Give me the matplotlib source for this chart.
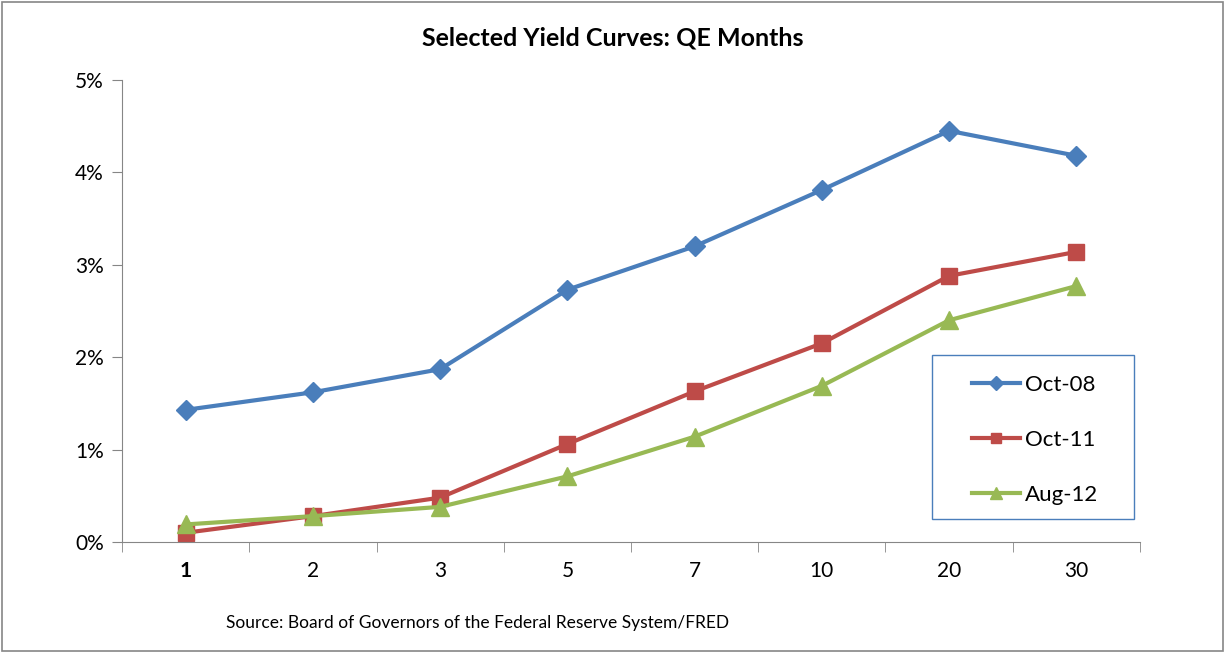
import matplotlib
matplotlib.use('Agg')
import matplotlib.pyplot as plt
from matplotlib.ticker import FuncFormatter, FixedLocator

plt.rcParams['font.family'] = ['Lato', 'DejaVu Sans']

maturities = ['1', '2', '3', '5', '7', '10', '20', '30']
oct_08 = [1.43, 1.62, 1.87, 2.73, 3.20, 3.81, 4.45, 4.18]
oct_11 = [0.10, 0.28, 0.48, 1.06, 1.63, 2.15, 2.88, 3.14]
aug_12 = [0.19, 0.28, 0.38, 0.71, 1.14, 1.69, 2.40, 2.77]

fig = plt.figure(figsize=(12.25, 6.53), dpi=100)
ax = fig.add_axes([0.0996, 0.170, 0.831, 0.7075])

x = range(len(maturities))
ax.plot(x, oct_08, color='#4a7ebb', lw=3, marker='D', ms=10, label='Oct-08')
ax.plot(x, oct_11, color='#be4b48', lw=3, marker='s', ms=11, label='Oct-11')
ax.plot(x, aug_12, color='#98b954', lw=3, marker='^', ms=13, label='Aug-12')

ax.set_xlim(-0.5, len(maturities) - 0.5)
ax.set_ylim(0, 5)
ax.set_yticks([0, 1, 2, 3, 4, 5])
ax.yaxis.set_major_formatter(FuncFormatter(lambda v, p: '%d%%' % v))
ax.set_xticks(list(x))
ax.set_xticklabels(maturities)
ax.xaxis.set_minor_locator(FixedLocator([i + 0.5 for i in range(-1, len(maturities))]))
ax.tick_params(axis='x', which='major', length=0, pad=14, labelsize=15)
ax.tick_params(axis='x', which='minor', length=7, color='#868686', direction='out')
ax.tick_params(axis='y', length=7, color='#868686', labelsize=15, pad=6)
ax.get_xticklabels()[0].set_fontweight('bold')

for s in ['top', 'right']:
    ax.spines[s].set_visible(False)
for s in ['left', 'bottom']:
    ax.spines[s].set_color('#868686')

fig.text(0.5, 0.93, 'Selected Yield Curves: QE Months', ha='center', fontsize=18, fontweight='bold')
fig.text(0.39, 0.038, 'Source: Board of Governors of the Federal Reserve System/FRED', ha='center', fontsize=12.5)

# legend box drawn separately so the entries can sit inset like the original
box = plt.Rectangle((0.796, 0.049), 0.198, 0.355, transform=ax.transAxes, fill=True,
                    facecolor='white', edgecolor='#4a7ebb', lw=1.0, zorder=4)
ax.add_patch(box)
leg = ax.legend(loc='upper left', bbox_to_anchor=(0.835, 0.361), frameon=False,
                fontsize=16, labelspacing=1.56, borderaxespad=0, borderpad=0,
                handlelength=2.15, handletextpad=0.25, markerscale=0.7)
leg.set_zorder(5)

border = plt.Rectangle((0.002, 0.003), 0.996, 0.994, transform=fig.transFigure, fill=False, edgecolor='#868686', lw=1.2)
fig.patches.append(border)

fig.savefig('out.png', dpi=100)
